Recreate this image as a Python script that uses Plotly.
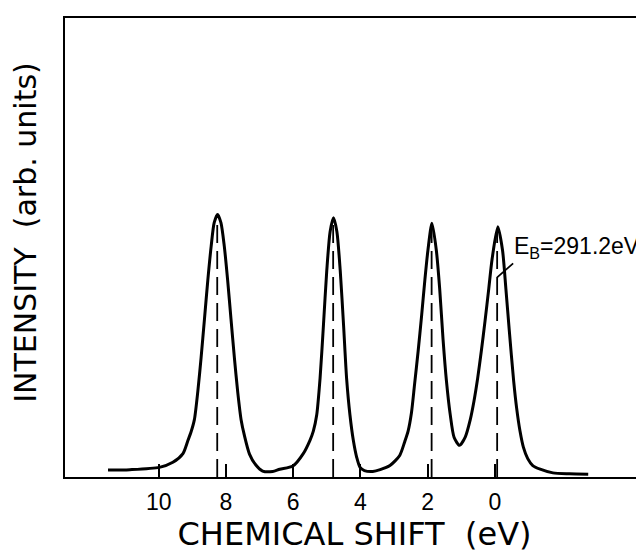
import plotly.graph_objects as go

# Curve (chemical shift in eV, intensity in arb. units)
shift_ev = [11.51, 10.86, 9.98, 9.58, 9.28, 9.13, 9.04, 8.94, 8.84, 8.74, 8.64, 8.54, 8.44, 8.35,
            8.25, 8.15, 8.05, 7.95, 7.85, 7.75, 7.65, 7.55, 7.45, 7.30, 7.11, 6.91, 6.61, 6.40,
            6.01, 5.70, 5.50, 5.40, 5.30, 5.20, 5.10, 5.00, 4.90, 4.80, 4.70, 4.60, 4.50, 4.41,
            4.31, 4.21, 4.11, 4.01, 3.88, 3.63, 3.41, 3.12, 2.83, 2.68, 2.58, 2.48, 2.39, 2.28,
            2.18, 2.08, 1.99, 1.87, 1.74, 1.64, 1.54, 1.44, 1.33, 1.21, 1.05, 0.88, 0.73, 0.62,
            0.51, 0.40, 0.29, 0.18, 0.08, -0.09, -0.23, -0.33, -0.43, -0.56, -0.65, -0.75, -0.85,
            -0.98, -1.13, -1.35, -1.73, -2.22, -2.78]
intensity = [0.015, 0.016, 0.021, 0.032, 0.051, 0.080, 0.098, 0.125, 0.185, 0.26, 0.344, 0.429, 0.503, 0.554,
             0.572, 0.554, 0.503, 0.429, 0.344, 0.26, 0.185, 0.125, 0.09, 0.05, 0.026, 0.013, 0.012, 0.017,
             0.024, 0.051, 0.080, 0.100, 0.135, 0.215, 0.33, 0.45, 0.535, 0.565, 0.535, 0.45, 0.33, 0.215,
             0.135, 0.080, 0.043, 0.021, 0.014, 0.012, 0.016, 0.025, 0.047, 0.077, 0.10, 0.14, 0.20, 0.275,
             0.35, 0.43, 0.494, 0.553, 0.494, 0.41, 0.30, 0.21, 0.138, 0.086, 0.069, 0.087, 0.125, 0.165,
             0.215, 0.275, 0.34, 0.41, 0.475, 0.545, 0.494, 0.41, 0.32, 0.21, 0.15, 0.10, 0.065,
             0.04, 0.025, 0.017, 0.009, 0.007, 0.006]

# Peak markers (dashed lines)
peak_ev = [8.26, 4.81, 1.88, -0.07]
peak_top = [0.56, 0.555, 0.54, 0.535]

tick_vals = [10, 8, 6, 4, 2, 0]
tick_text = ["10", "8", "6", "4", "2", "0"]

x_title = "CHEMICAL SHIFT\u00a0\u00a0(eV)"
y_title = "INTENSITY\u00a0\u00a0(arb. units)"
eb_label = "E<sub>B</sub>=291.2eV"
eb_pointer = (-0.07, 0.435)

fig = go.Figure()

for p, t in zip(peak_ev, peak_top):
    fig.add_trace(go.Scatter(x=[p, p], y=[0, t], mode="lines",
                             line=dict(color="black", width=1.8, dash="18px,8px"),
                             hoverinfo="skip"))

fig.add_trace(go.Scatter(x=shift_ev, y=intensity, mode="lines",
                         line=dict(color="black", width=3, shape="spline", smoothing=0.7)))

num_font = "Liberation Sans, Arial, sans-serif"
title_font = "DejaVu Sans, sans-serif"

fig.update_layout(
    width=636, height=545,
    margin=dict(l=57, r=0, t=10, b=76),
    plot_bgcolor="white", paper_bgcolor="white",
    showlegend=False,
    xaxis=dict(range=[12.79, -4.44], showline=True, linecolor="black", linewidth=2, mirror=True,
               ticks="inside", ticklen=13, tickwidth=2, tickcolor="black",
               tickvals=tick_vals, ticktext=tick_text, ticklabelstandoff=3,
               tickfont=dict(family=num_font, size=23, color="black"),
               showgrid=False, zeroline=False,
               title=dict(text=x_title, font=dict(family=title_font, size=32, color="black"), standoff=9)),
    yaxis=dict(range=[0, 1], showline=True, linecolor="black", linewidth=2, mirror=False,
               showticklabels=False, ticks="", showgrid=False, zeroline=False),
    annotations=[
        dict(text=y_title, xref="paper", yref="paper", x=-0.0674, y=0.534, textangle=-90,
             showarrow=False, xanchor="center", yanchor="middle",
             font=dict(family=title_font, size=30, color="black")),
        dict(text=eb_label, x=eb_pointer[0], y=eb_pointer[1], xref="x", yref="y",
             showarrow=True, arrowhead=0, arrowwidth=1.8, arrowcolor="black",
             ax=16, ay=-14, standoff=0, xanchor="left", yanchor="bottom", borderpad=0,
             font=dict(family=num_font, size=23, color="black")),
    ],
)

fig.write_html("out.html")
